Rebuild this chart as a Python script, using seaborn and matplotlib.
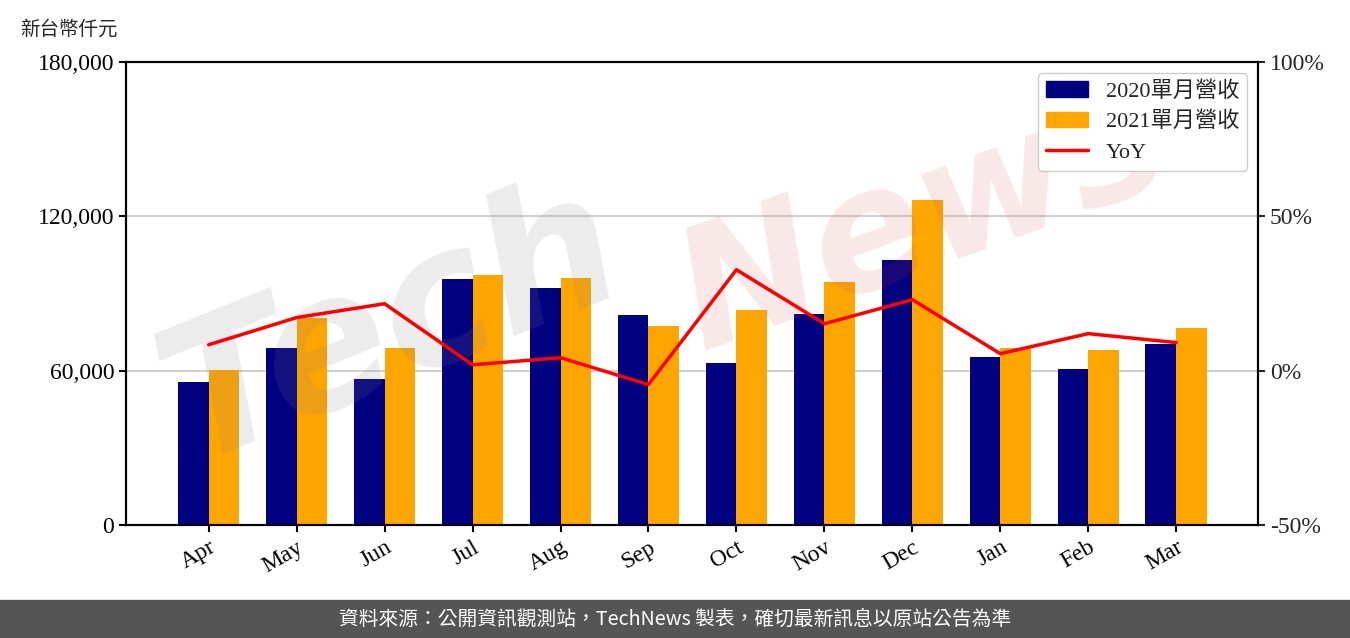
import numpy as np
import pandas as pd
import seaborn as sns
import matplotlib
matplotlib.use("Agg")
from matplotlib import pyplot as plt
from matplotlib.patches import Patch, Rectangle
from matplotlib.lines import Line2D
from matplotlib.ticker import FuncFormatter, FixedLocator

months = ["Apr", "May", "Jun", "Jul", "Aug", "Sep", "Oct", "Nov", "Dec", "Jan", "Feb", "Mar"]
rev_2020 = [55600, 68800, 56800, 95600, 92100, 81600, 63000, 82000, 103000, 65300, 60700, 70400]
rev_2021 = [60300, 80500, 68800, 97200, 96000, 77400, 83600, 94500, 126400, 68800, 68000, 76600]
yoy = [8.4, 17.2, 21.7, 1.9, 4.2, -4.5, 32.7, 15.2, 23.0, 5.5, 12.0, 9.1]
series_names = ["2020單月營收", "2021單月營收"]
colors = ["#000080", "#FFA500"]

sns.set_style("white")
plt.rcParams['font.family'] = ['Liberation Serif', 'Noto Sans CJK TC', 'DejaVu Sans']

df = pd.DataFrame({
    'month': months * 2,
    'value': rev_2020 + rev_2021,
    'series': [series_names[0]] * 12 + [series_names[1]] * 12,
})

fig = plt.figure(figsize=(13.5, 6.38), dpi=100)
ax = fig.add_axes([0.0933, 0.1771, 0.8386, 0.7257])

sns.barplot(data=df, x='month', y='value', hue='series', palette=colors,
            width=0.7, saturation=1, legend=False, ax=ax, zorder=2,
            edgecolor='none', linewidth=0)
ax.set_xlim(-0.94, 11.93)
ax.set_ylim(0, 180000)
ax.yaxis.set_major_locator(FixedLocator([0, 60000, 120000, 180000]))
ax.yaxis.set_major_formatter(FuncFormatter(lambda v, p: "{:,.0f}".format(v)))
ax.set_xlabel("")
ax.set_ylabel("")
ax.grid(axis='y', color='#d0d0d0', lw=1.5, zorder=0)
ax.tick_params(axis='both', labelsize=17, length=5, width=1.5, direction='out',
               left=True, bottom=True, colors='black')
for lab in ax.get_xticklabels():
    lab.set_rotation(30)
    lab.set_ha('right')
    lab.set_rotation_mode('anchor')
for s in ax.spines.values():
    s.set_color('black')
    s.set_linewidth(1.5)

ax2 = ax.twinx()
sns.lineplot(x=np.arange(len(months)), y=yoy, color='red', lw=2.5, ax=ax2, zorder=5)
ax2.set_ylim(-50, 100)
ax2.yaxis.set_major_locator(FixedLocator([-50, 0, 50, 100]))
ax2.yaxis.set_major_formatter(FuncFormatter(lambda v, p: "{:.0f}%".format(v)))
ax2.tick_params(axis='y', labelsize=17, length=5, width=1.5, direction='out', right=True)
for s in ax2.spines.values():
    s.set_color('black')
    s.set_linewidth(1.5)

# watermark
ax.text(0.01, 0.14, "Tech", transform=ax.transAxes, fontsize=135, fontweight='bold',
        fontstyle='italic', family='DejaVu Sans', color='#808080', alpha=0.15,
        rotation=22, zorder=3, clip_on=True)
ax.text(0.47, 0.38, "News", transform=ax.transAxes, fontsize=120, fontweight='bold',
        fontstyle='italic', family='DejaVu Sans', color='#d04040', alpha=0.12,
        rotation=20, zorder=3, clip_on=True)

handles = [Patch(color=colors[0], label=series_names[0]),
           Patch(color=colors[1], label=series_names[1]),
           Line2D([0], [0], color='red', lw=2.5, label='YoY')]
leg = ax2.legend(handles=handles, loc='upper right', fontsize=16, frameon=True,
                 fancybox=True, framealpha=1, edgecolor='#cccccc',
                 handlelength=1.9, borderpad=0.35, labelspacing=0.45,
                 bbox_to_anchor=(1.0, 1.0))

fig.text(0.015, 0.955, "新台幣仟元", fontsize=14, family=['Noto Sans CJK TC'], va='center')

fig.patches.append(Rectangle((0, 0), 1, 38 / 638, transform=fig.transFigure,
                             color='#555555', zorder=0))
fig.text(0.5, 19 / 638, "資料來源：公開資訊觀測站，TechNews 製表，確切最新訊息以原站公告為準",
         color='white', fontsize=14.2, family=['Noto Sans CJK TC'], ha='center', va='center')

fig.savefig("out.png", dpi=100)
